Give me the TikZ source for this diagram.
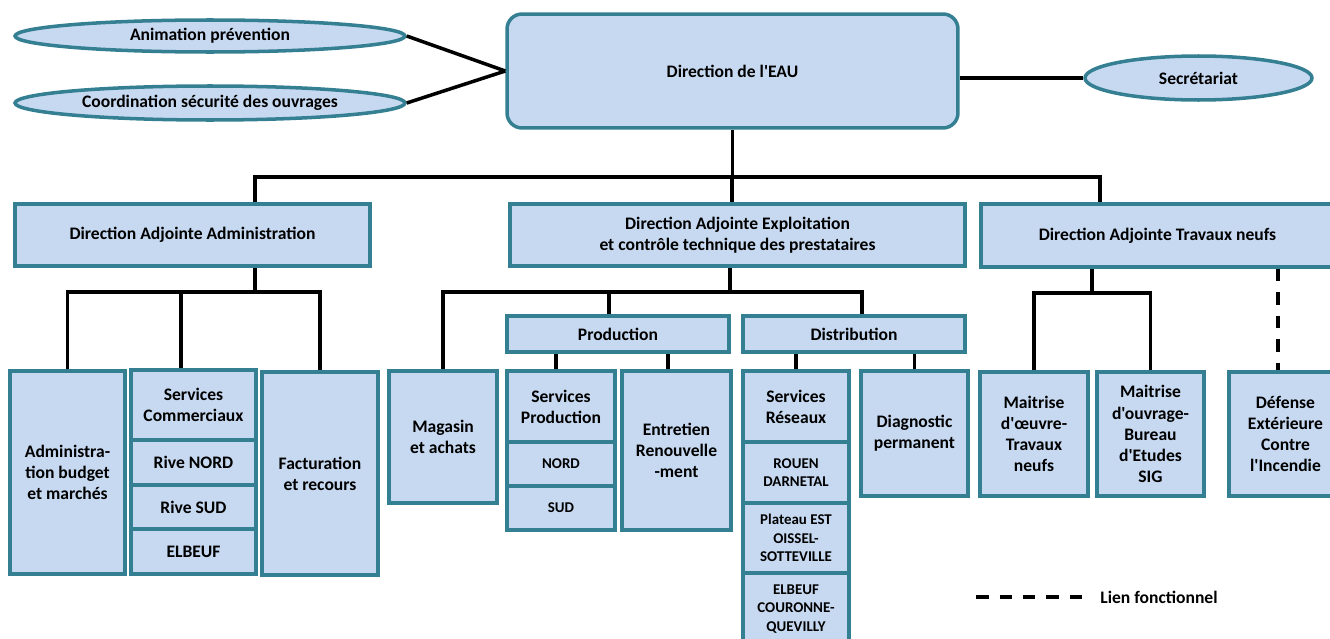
\documentclass[tikz,border=0pt]{standalone}
\usepackage{fontspec}
\newfontfamily\orgfont{Carlito}[Ligatures=TeXOff]
\usetikzlibrary{shapes.geometric}
\definecolor{boxfill}{RGB}{198,217,241}
\definecolor{boxline}{RGB}{52,127,146}

\begin{document}
\begin{tikzpicture}[x=0.02cm, y=-0.02cm,
    font=\orgfont\bfseries\fontsize{10}{12}\selectfont,
    unit/.style={rectangle, draw=boxline, fill=boxfill, line width=2pt, align=center, inner sep=2pt},
    sub/.style={unit, font=\orgfont\bfseries\fontsize{8.5}{10.5}\selectfont},
    bulle/.style={ellipse, draw=boxline, fill=boxfill, line width=2pt, inner sep=0pt},
    lien/.style={line width=2pt},
    fonct/.style={line width=2pt, dash pattern=on 0.25cm off 0.22cm},
    legende/.style={anchor=west, inner sep=0pt, font=\orgfont\bfseries\fontsize{10}{12}\selectfont}]
                            \useasboundingbox (0,0) rectangle (1330,639);

                            % direction
                            \node (anim)[bulle, minimum width=7.8cm, minimum height=0.64cm] at (210,36) {Animation prévention};
                            \node (coord)[bulle, minimum width=7.8cm, minimum height=0.68cm] at (210,103) {Coordination sécurité des ouvrages};
                            \node (dir)[unit, rounded corners=0.3cm, minimum width=9.02cm, minimum height=2.28cm] at (732.5,71) {Direction de l'EAU};
                            \node (secr)[bulle, minimum width=4.54cm, minimum height=0.88cm] at (1198.5,78) {Secrétariat};

                            % directions adjointes
                            \node (daa)[unit, minimum width=7.1cm, minimum height=1.24cm] at (192.5,235) {Direction Adjointe Administration};
                            \node (dae)[unit, minimum width=9.1cm, minimum height=1.24cm] at (737.5,235) {Direction Adjointe Exploitation\\et contrôle technique des prestataires};
                            \node (dat)[unit, minimum width=7.06cm, minimum height=1.26cm] at (1157.5,235.5) {Direction Adjointe Travaux neufs};

                            % administration
                            \node (adm)[unit, minimum width=2.3cm, minimum height=4.06cm] at (67.5,472.5) {Administra-\\tion budget\\et marchés};
                            \node (sc)[unit, minimum width=2.5cm, minimum height=1.4cm] at (193.5,405) {Services\\Commerciaux};
                            \node (rn)[unit, minimum width=2.5cm, minimum height=0.9cm] at (193.5,462.5) {Rive NORD};
                            \node (rs)[unit, minimum width=2.5cm, minimum height=0.88cm] at (193.5,507) {Rive SUD};
                            \node (elb)[unit, minimum width=2.5cm, minimum height=0.9cm] at (193.5,551.5) {ELBEUF};
                            \node (fac)[unit, minimum width=2.32cm, minimum height=4.06cm] at (320,473.5) {Facturation\\et recours};

                            % exploitation
                            \node (mag)[unit, minimum width=2.16cm, minimum height=2.64cm] at (443,437) {Magasin\\et achats};
                            \node (prod)[unit, minimum width=4.44cm, minimum height=0.72cm] at (618,334) {Production};
                            \node (sp)[unit, minimum width=2.16cm, minimum height=1.42cm] at (561,406.5) {Services\\Production};
                            \node (nord)[sub, minimum width=2.16cm, minimum height=0.88cm] at (561,464) {NORD};
                            \node (sud)[sub, minimum width=2.16cm, minimum height=0.88cm] at (561,508) {SUD};
                            \node (ent)[unit, minimum width=2.18cm, minimum height=3.18cm] at (676.5,450.5) {Entretien\\Renouvelle\\-ment};
                            \node (dist)[unit, minimum width=4.44cm, minimum height=0.72cm] at (854,334) {Distribution};
                            \node (sr)[unit, minimum width=2.12cm, minimum height=1.42cm] at (796,406.5) {Services\\Réseaux};
                            \node (rouen)[sub, minimum width=2.12cm, minimum height=1.22cm] at (796,472.5) {ROUEN\\DARNETAL};
                            \node (plat)[sub, minimum width=2.12cm, minimum height=1.4cm] at (796,538) {Plateau EST\\OISSEL-\\SOTTEVILLE};
                            \node (elbc)[sub, minimum width=2.12cm, minimum height=1.44cm] at (796,609) {ELBEUF\\COURONNE-\\QUEVILLY};
                            \node (diag)[unit, minimum width=2.14cm, minimum height=2.5cm] at (914.5,433.5) {Diagnostic\\permanent};

                            % travaux neufs
                            \node (moe)[unit, minimum width=2.16cm, minimum height=2.48cm] at (1034,434) {Maitrise\\d'œuvre-\\Travaux\\neufs};
                            \node (mou)[unit, minimum width=2.14cm, minimum height=2.48cm] at (1150.5,434) {Maitrise\\d'ouvrage-\\Bureau\\d'Etudes\\SIG};
                            \node (defci)[unit, minimum width=2.26cm, minimum height=2.48cm] at (1285.5,434) {Défense\\Extérieure\\Contre\\l'Incendie};

                            % legende
                            \node (lgtxt)[legende] at (1100,597) {Lien fonctionnel};
                            \coordinate (lg) at (976,597);

                            % liens
                            \draw[lien] (anim.east) -- (dir.west);
                            \draw[lien] (coord.east) -- (dir.west);
                            \draw[lien] (secr.west) -- (secr.west -| dir.east);

                            \coordinate (j0) at (732,177);
                            \coordinate (jA) at (255,177);
                            \coordinate (jT) at (1100,177);
                            \draw[lien] (dir.south) -- (dir.south |- j0);
                            \draw[lien] (daa.north -| jA) |- (jT) -- (jT |- dat.north);
                            \draw[lien] (j0) -- (j0 |- dae.north);

                            \coordinate (kA) at (255,292);
                            \draw[lien] (daa.south -| kA) -- (kA);
                            \draw[lien] (adm.north) |- (kA) -| (fac.north);
                            \draw[lien] ([xshift=-0.25cm]sc.north) -- ([xshift=-0.25cm]sc.north |- kA);

                            \coordinate (kE) at (730,292);
                            \draw[lien] (dae.south -| kE) -- (kE);
                            \draw[lien] (mag.north) |- (kE) -| ([xshift=0.16cm]dist.north);
                            \draw[lien] ([xshift=-0.18cm]prod.north) -- ([xshift=-0.18cm]prod.north |- kE);
                            \draw[lien] ([xshift=-0.1cm]sp.north) -- ([xshift=-0.1cm]sp.north |- prod.south);
                            \draw[lien] ([xshift=-0.17cm]ent.north) -- ([xshift=-0.17cm]ent.north |- prod.south);
                            \draw[lien] (sr.north) -- (sr.north |- dist.south);
                            \draw[lien] (diag.north) -- (diag.north |- dist.south);

                            \coordinate (kT) at (1092,293);
                            \draw[lien] (dat.south -| kT) -- (kT);
                            \draw[lien] (moe.north) |- (kT) -| (mou.north);
                            \draw[fonct] ([xshift=-0.15cm]defci.north |- dat.south) -- ([xshift=-0.15cm]defci.north);

                            \draw[fonct] (lg) -- ([xshift=-0.3cm]lgtxt.west);

                        \end{tikzpicture}
\end{document}
